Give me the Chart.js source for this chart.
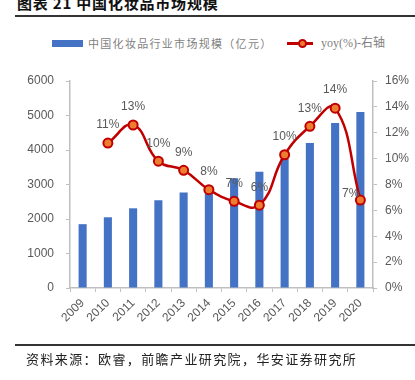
<!DOCTYPE html>
<html>
<head>
<meta charset="utf-8">
<script src="https://cdn.jsdelivr.net/npm/chart.js@4/dist/chart.umd.min.js"></script>
<style>
html,body{margin:0;padding:0;background:#fff;width:415px;height:380px;overflow:hidden;position:relative;font-family:"Liberation Sans","Noto Sans CJK SC",sans-serif;}
#title{position:absolute;left:17px;top:-8px;font-family:"Noto Sans CJK SC";font-weight:bold;font-size:15px;color:#111;white-space:nowrap;letter-spacing:0.8px;}
#tline{position:absolute;left:15px;top:15px;width:400px;height:1.5px;background:#333;}
#bline{position:absolute;left:15px;top:344px;width:400px;height:1.5px;background:#333;}
#source{position:absolute;left:26px;top:349px;font-family:"Noto Sans CJK SC";font-size:13px;color:#222;letter-spacing:1.4px;white-space:nowrap;}
#legend{position:absolute;left:0;top:34px;width:415px;height:18px;font-size:11px;color:#7f7f7f;}
.lg{position:absolute;top:0;white-space:nowrap;line-height:18px;}
#lgBarBox{position:absolute;left:52px;top:40px;width:31px;height:7px;background:#4472c4;}
#lgBarTxt{left:88px;font-family:"Noto Sans CJK SC";letter-spacing:1.3px;}
#lgLine{position:absolute;left:287px;top:42px;width:26px;height:2.5px;background:#c00000;}
#lgDot{position:absolute;left:298px;top:39px;width:5px;height:5px;border-radius:50%;background:#ed7d31;border:2px solid #c00000;}
#lgLineTxt{left:321px;font-family:"Liberation Serif","Noto Sans CJK SC";font-size:12px;}
canvas{position:absolute;left:0;top:0;}
</style>
</head>
<body>
<div id="title">图表 21 中国化妆品市场规模</div>
<div id="tline"></div>
<div id="legend">
  <span class="lg" id="lgBarTxt">中国化妆品行业市场规模（亿元）</span>
  <span class="lg" id="lgLineTxt">yoy(%)-右轴</span>
</div>
<div id="lgBarBox"></div>
<div id="lgLine"></div>
<div id="lgDot"></div>
<canvas id="c" width="415" height="380"></canvas>
<div id="bline"></div>
<div id="source">资料来源：欧睿，前瞻产业研究院，华安证券研究所</div>
<script>
const categories = ['2009','2010','2011','2012','2013','2014','2015','2016','2017','2018','2019','2020'];
const marketSize = [1850, 2050, 2310, 2540, 2770, 2950, 3180, 3370, 3740, 4200, 4780, 5100];
const yoyPct = [null, 11.2, 12.6, 9.8, 9.1, 7.6, 6.7, 6.4, 10.3, 12.5, 13.9, 6.8];
const leftTicks = [0, 1000, 2000, 3000, 4000, 5000, 6000];
const rightTicks = [0, 2, 4, 6, 8, 10, 12, 14, 16];

const AXIS = '#bfbfbf';
const TICK = '#595959';
const FONT = {family: '"Liberation Sans", Arial, sans-serif', size: 12};

const labelPlugin = {
  id: 'yoyLabels',
  afterDatasetsDraw(chart) {
    const ctx = chart.ctx;
    const meta = chart.getDatasetMeta(1);
    const data = chart.data.datasets[1].data;
    ctx.save();
    ctx.font = '12px "Liberation Sans", Arial, sans-serif';
    ctx.fillStyle = TICK;
    ctx.textBaseline = 'middle';
    let lastIdx = -1;
    data.forEach((v, i) => { if (v !== null) lastIdx = i; });
    meta.data.forEach((pt, i) => {
      const v = data[i];
      if (v === null || v === undefined) return;
      const txt = Math.round(v) + '%';
      if (i === lastIdx) {
        ctx.textAlign = 'right';
        ctx.fillText(txt, pt.x - 1, pt.y - 6);
      } else {
        ctx.textAlign = 'center';
        ctx.fillText(txt, pt.x, pt.y - 18);
      }
    });
    ctx.restore();
  }
};

new Chart(document.getElementById('c'), {
  data: {
    labels: categories,
    datasets: [
      {
        type: 'bar',
        label: '中国化妆品行业市场规模（亿元）',
        data: marketSize,
        backgroundColor: '#4472c4',
        yAxisID: 'y',
        order: 2,
        barPercentage: 0.32,
        categoryPercentage: 1
      },
      {
        type: 'line',
        label: 'yoy(%)-右轴',
        data: yoyPct,
        yAxisID: 'y1',
        borderColor: '#c00000',
        borderWidth: 2.5,
        tension: 0.45,
        pointRadius: 4.5,
        pointBorderWidth: 2,
        pointBackgroundColor: '#ed7d31',
        pointBorderColor: '#c00000',
        order: 1
      }
    ]
  },
  options: {
    responsive: false,
    animation: false,
    devicePixelRatio: 1,
    layout: {padding: {top: 81, left: 0, right: 0, bottom: 0}},
    plugins: {legend: {display: false}, tooltip: {enabled: false}, title: {display: false}},
    scales: {
      x: {
        offset: true,
        grid: {display: true, drawOnChartArea: false, offset: true, tickLength: 4, color: AXIS},
        border: {color: AXIS, width: 1.5},
        ticks: {color: TICK, font: FONT, maxRotation: 45, minRotation: 45, padding: 4},
        afterFit(s) { s.height = 92; }
      },
      y: {
        position: 'left',
        min: 0, max: 6000,
        afterBuildTicks(s) { s.ticks = leftTicks.map(v => ({value: v})); },
        grid: {display: true, drawOnChartArea: false, tickLength: 4, color: AXIS},
        border: {color: AXIS, width: 1.5},
        ticks: {color: TICK, font: FONT, padding: 12, callback: v => String(v)},
        afterFit(s) { s.width = 70; }
      },
      y1: {
        position: 'right',
        min: 0, max: 16,
        afterBuildTicks(s) { s.ticks = rightTicks.map(v => ({value: v})); },
        grid: {display: true, drawOnChartArea: false, tickLength: 4, color: AXIS},
        border: {color: AXIS, width: 1.5},
        ticks: {color: TICK, font: FONT, padding: 8, callback: v => v + '%'},
        afterFit(s) { s.width = 42; }
      }
    }
  },
  plugins: [labelPlugin]
});
</script>
</body>
</html>
